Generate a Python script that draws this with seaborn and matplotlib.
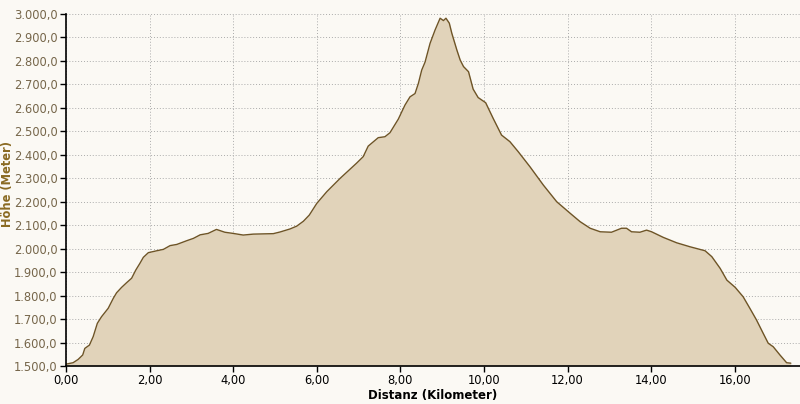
import matplotlib
matplotlib.use("Agg")
import matplotlib.pyplot as plt
import seaborn as sns
import pandas as pd
from matplotlib.ticker import FuncFormatter

distance_km = [0.00, 0.17, 0.29, 0.40, 0.45, 0.56, 0.65, 0.75, 0.85, 1.01, 1.13, 1.21, 1.33,
               1.45, 1.57, 1.67, 1.77, 1.85, 1.97, 2.17, 2.33, 2.49, 2.65, 2.89, 3.05, 3.21,
               3.40, 3.60, 3.80, 4.00, 4.24, 4.48, 4.96, 5.12, 5.36, 5.52, 5.68, 5.82, 6.00,
               6.24, 6.56, 6.95, 7.11, 7.23, 7.47, 7.63, 7.75, 7.95, 8.11, 8.23, 8.35, 8.43,
               8.51, 8.59, 8.71, 8.83, 8.95, 9.03, 9.09, 9.17, 9.23, 9.35, 9.43, 9.51, 9.63,
               9.74, 9.86, 10.04, 10.22, 10.42, 10.62, 10.82, 11.10, 11.42, 11.74, 12.06,
               12.30, 12.54, 12.78, 13.05, 13.29, 13.41, 13.53, 13.73, 13.89, 14.01, 14.29,
               14.61, 14.93, 15.29, 15.45, 15.65, 15.81, 16.01, 16.20, 16.36, 16.52, 16.68,
               16.80, 16.92, 17.08, 17.24, 17.34]
elevation_m = [1508, 1514, 1528, 1547, 1575, 1589, 1625, 1682, 1710, 1746, 1788, 1812, 1835,
               1855, 1874, 1909, 1938, 1963, 1983, 1991, 1997, 2013, 2018, 2034, 2044, 2059,
               2065, 2082, 2070, 2065, 2058, 2062, 2064, 2071, 2084, 2096, 2117, 2143, 2193,
               2243, 2300, 2364, 2392, 2437, 2473, 2477, 2494, 2552, 2612, 2647, 2661, 2704,
               2761, 2795, 2875, 2932, 2982, 2972, 2982, 2961, 2918, 2847, 2804, 2776, 2754,
               2680, 2644, 2622, 2555, 2484, 2456, 2413, 2349, 2271, 2200, 2151,
               2115, 2087, 2072, 2070, 2087, 2087, 2072, 2070, 2079, 2072, 2048,
               2025, 2008, 1991, 1966, 1916, 1866, 1835, 1795, 1746, 1696, 1639,
               1597, 1582, 1547, 1514, 1512]

x_ticks = [0, 2, 4, 6, 8, 10, 12, 14, 16]
y_ticks = [1500, 1600, 1700, 1800, 1900, 2000, 2100, 2200, 2300, 2400, 2500, 2600, 2700,
           2800, 2900, 3000]

df = pd.DataFrame({"km": distance_km, "m": elevation_m})

sns.set_style("white")
plt.rcParams["font.family"] = ["DejaVu Sans"]

bg = "#FBF9F4"
fig = plt.figure(figsize=(8.0, 4.04), dpi=100, facecolor=bg)
ax = fig.add_axes([66 / 800, 38 / 404, 734 / 800, 352 / 404])
ax.set_facecolor(bg)

ax.fill_between(df["km"], 1500, df["m"], color="#E1D3BA", linewidth=0, zorder=2)
sns.lineplot(data=df, x="km", y="m", ax=ax, color="#6E5426", linewidth=1.0, zorder=3)

ax.set_xlim(0, 17.56)
ax.set_ylim(1500, 3000)
ax.set_xticks(x_ticks)
ax.set_yticks(y_ticks)
ax.xaxis.set_major_formatter(FuncFormatter(lambda v, p: f"{v:.2f}".replace(".", ",")))
ax.yaxis.set_major_formatter(FuncFormatter(
    lambda v, p: f"{v:,.1f}".replace(",", "X").replace(".", ",").replace("X", ".")))

ax.grid(True, color="#ABABAB", linestyle=(0, (1, 2)), linewidth=0.7)
for l in ax.get_xgridlines() + ax.get_ygridlines():
    l.set_zorder(4)

for s in ["top", "right"]:
    ax.spines[s].set_visible(False)
ax.spines["left"].set_color("black")
ax.spines["left"].set_linewidth(1.2)
ax.spines["left"].set_zorder(5)
ax.spines["bottom"].set_color("black")
ax.spines["bottom"].set_linewidth(1.2)
ax.spines["bottom"].set_linestyle((0, (1, 1)))
ax.spines["bottom"].set_zorder(5)

ax.tick_params(axis="both", which="major", direction="out", length=4, width=1,
               color="black", labelsize=8.3, left=True, bottom=True)
ax.tick_params(axis="y", labelcolor="#76664A", pad=2)
ax.tick_params(axis="x", labelcolor="black", pad=2)

ax.set_xlabel("Distanz (Kilometer)", fontsize=8.5, fontweight="bold", color="black", labelpad=1)
ax.set_ylabel("Höhe (Meter)", fontsize=8.3, fontweight="bold", color="#8A6A22")
ax.yaxis.set_label_coords((14.0 - 66.0) / 734.0, 0.517)

fig.savefig("out.png", dpi=100, facecolor=bg)
